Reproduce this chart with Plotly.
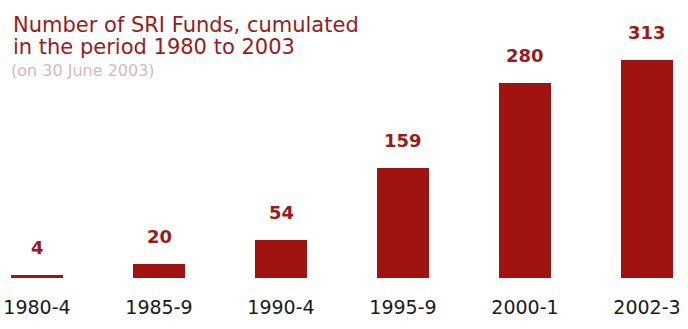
import plotly.graph_objects as go

categories = ["1980-4", "1985-9", "1990-4", "1995-9", "2000-1", "2002-3"]
funds = [4, 20, 54, 159, 280, 313]

title_line1 = "Number of SRI Funds, cumulated"
title_line2 = "in the period 1980 to 2003"
subtitle = "(on 30 June 2003)"

BAR = "#A01311"
TITLE = "#9A1A20"

x = list(range(len(categories)))

fig = go.Figure()
fig.add_trace(go.Bar(
    x=x, y=funds, width=0.42,
    marker=dict(color=BAR, line=dict(width=0)),
    hoverinfo="skip",
))

for xi, v in zip(x, funds):
    fig.add_annotation(
        x=xi, y=v, xref="x", yref="y", text=str(v), showarrow=False,
        yanchor="bottom", yshift=15,
        font=dict(family="DejaVu Sans", size=18, color=TITLE, weight="bold"),
    )

H = 278.0
def py(px):
    return 1 - px / H

fig.add_annotation(xref="paper", yref="paper", x=11 / 688, y=py(39), xanchor="left",
                   yanchor="bottom", text=title_line1, showarrow=False,
                   font=dict(family="DejaVu Sans", size=21, color=TITLE))
fig.add_annotation(xref="paper", yref="paper", x=11 / 688, y=py(61), xanchor="left",
                   yanchor="bottom", text=title_line2, showarrow=False,
                   font=dict(family="DejaVu Sans", size=21, color=TITLE))
fig.add_annotation(xref="paper", yref="paper", x=9 / 688, y=py(82), xanchor="left",
                   yanchor="bottom", text=subtitle, showarrow=False,
                   font=dict(family="DejaVu Sans", size=16, color="#D6B9B9"))

fig.update_layout(
    width=688, height=329,
    margin=dict(l=0, r=0, t=0, b=51),
    paper_bgcolor="white", plot_bgcolor="white",
    showlegend=False,
    bargap=0,
    xaxis=dict(
        range=[-37 / 122, (688 - 37) / 122],
        tickmode="array", tickvals=x, ticktext=categories,
        ticks="outside", ticklen=12, tickcolor="rgba(0,0,0,0)",
        showgrid=False, zeroline=False, showline=False,
        tickfont=dict(family="DejaVu Sans", size=19, color="#1a1a1a"),
        fixedrange=True,
    ),
    yaxis=dict(
        range=[0, 400], visible=False, showgrid=False, zeroline=False,
        fixedrange=True,
    ),
)

fig.write_html("out.html", config={"displayModeBar": False})
